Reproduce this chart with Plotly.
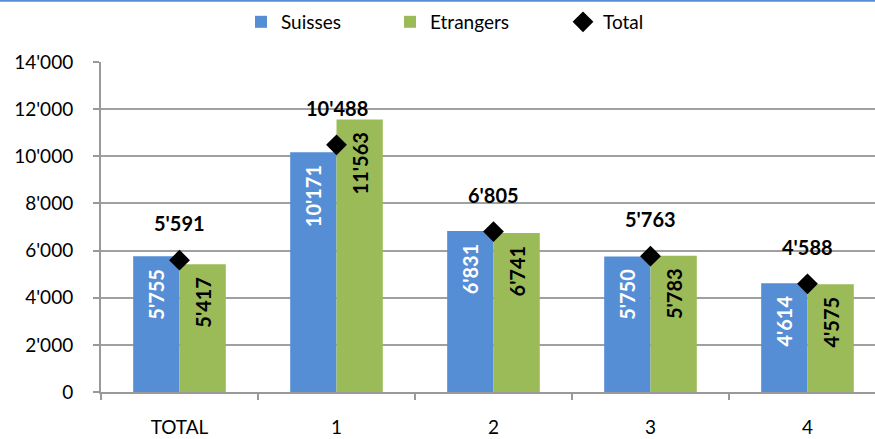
import plotly.graph_objects as go

categories = ["TOTAL", "1", "2", "3", "4"]
suisses = [5755, 10171, 6831, 5750, 4614]
etrangers = [5417, 11563, 6741, 5783, 4575]
total = [5591, 10488, 6805, 5763, 4588]
y_ticks = [0, 2000, 4000, 6000, 8000, 10000, 12000, 14000]

BLUE = "#558ED5"
GREEN = "#9BBB59"
FONT = "Lato, Liberation Sans, Arial"
PAD = "\u00a0\u00a0"


def fmt(v):
    return f"{v:,}".replace(",", "'")


fig = go.Figure()
fig.add_trace(go.Bar(
    name="Suisses", x=categories, y=suisses, marker=dict(color=BLUE, line=dict(width=0)),
    text=[fmt(v) + PAD for v in suisses], textposition="inside", insidetextanchor="end",
    textangle=-90, textfont=dict(color="white", size=20, family=FONT, weight="bold"),
    legend="legend",
))
fig.add_trace(go.Bar(
    name="Etrangers", x=categories, y=etrangers, marker=dict(color=GREEN, line=dict(width=0)),
    text=[fmt(v) + PAD for v in etrangers], textposition="inside", insidetextanchor="end",
    textangle=-90, textfont=dict(color="black", size=20, family=FONT, weight="bold"),
    legend="legend2",
))
fig.add_trace(go.Scatter(
    name="Total", x=categories, y=total, mode="markers",
    marker=dict(symbol="diamond", size=16, color="black"),
    legend="legend3",
))

for c, v in zip(categories, total):
    fig.add_annotation(x=c, y=v, text="<b>" + fmt(v) + "</b>", showarrow=False,
                       yshift=37, font=dict(size=20, color="black", family=FONT))

# decorative top border
fig.add_shape(type="line", xref="paper", yref="paper", x0=-0.14, x1=1.02,
              y0=1.1855, y1=1.1855, line=dict(color="#558ED5", width=2))

leg_common = dict(orientation="h", xref="container", yref="container", y=0.95,
                  yanchor="middle", xanchor="left", font=dict(size=19, family=FONT),
                  bgcolor="rgba(0,0,0,0)", itemwidth=30)

fig.update_layout(
    width=875, height=439,
    margin=dict(l=101, r=0, t=62, b=47),
    paper_bgcolor="white", plot_bgcolor="white",
    barmode="group", bargap=0.41, bargroupgap=0,
    font=dict(family=FONT, size=19, color="black"),
    separators=".'",
    showlegend=True,
    legend=dict(x=241 / 875, **leg_common),
    legend2=dict(x=390 / 875, **leg_common),
    legend3=dict(x=563 / 875, **leg_common),
)
fig.update_xaxes(
    type="category", range=[-0.5, 4.43], showline=True, linecolor="#999999", linewidth=2,
    ticks="outside", tickson="boundaries", ticklen=6, tickcolor="#999999", tickwidth=1.5,
    showgrid=False, tickfont=dict(size=19, family=FONT), ticklabelstandoff=17,
    automargin=False,
)
fig.update_yaxes(
    range=[0, 14000], tickvals=y_ticks, ticktext=[fmt(v) for v in y_ticks],
    showline=True, linecolor="#999999", linewidth=2,
    ticks="outside", ticklen=6, tickcolor="#999999", tickwidth=1.5,
    showgrid=True, gridcolor="#A0A0A0", gridwidth=1.5, zeroline=False,
    tickfont=dict(size=19, family=FONT), ticklabelstandoff=16, automargin=False,
)

fig.write_html(
    "out.html",
    config={"displayModeBar": False},
    post_script="document.body.style.margin='0';document.body.style.overflow='hidden';",
)
